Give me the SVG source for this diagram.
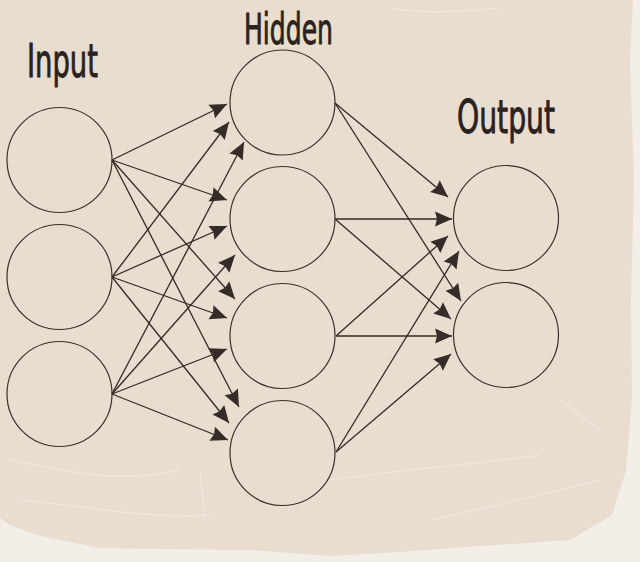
<svg xmlns="http://www.w3.org/2000/svg" width="640" height="562" viewBox="0 0 640 562">
  <style>
    .node { fill: none; stroke: #3a302c; stroke-width: 1.2; }
    .edge { fill: none; stroke: #332926; stroke-width: 1.3; marker-end: url(#arrow); }
    .label { font-family: "Liberation Sans Narrow", "DejaVu Sans Condensed", "Liberation Sans", sans-serif; font-size: 46px; fill: #2a2220; stroke: #2a2220; stroke-width: 0.9; }
    .scratch { fill: none; stroke: #f6f2ec; stroke-width: 1.1; opacity: 0.55; }
  </style>
  <defs>
    <marker id="arrow" markerUnits="userSpaceOnUse" markerWidth="20" markerHeight="18" refX="17" refY="7.5" orient="auto" overflow="visible">
      <path d="M0,0 L17,7.5 L0,15 L2,7.5 Z" fill="#352b28"/>
    </marker>
  </defs>

  <g id="background">
    <rect x="0" y="0" width="640" height="562" fill="#f3eee7"/>
    <path d="M0,0 L633,0 L630,60 L634,180 L631,300 L632,400 L626,470 L612,515 L570,540 L480,546 L400,552 L330,556 L250,550 L160,549 L100,548 L40,536 L10,525 L0,518 Z" fill="#e8ddcf"/>
    <path class="scratch" d="M10,460 C60,470 120,485 180,470"/>
    <path class="scratch" d="M20,500 C80,505 150,520 210,515"/>
    <path class="scratch" d="M330,480 C400,470 470,465 540,455"/>
    <path class="scratch" d="M430,520 C480,510 540,495 600,480"/>
    <path class="scratch" d="M200,470 L205,520"/>
    <path class="scratch" d="M560,400 L600,430"/>
    <path class="scratch" d="M390,8 C420,14 460,12 500,8"/>
  </g>

  <g id="labels">
    <text class="label" x="27" y="77" textLength="71" lengthAdjust="spacingAndGlyphs">Input</text>
    <text class="label" x="244" y="44" textLength="89" lengthAdjust="spacingAndGlyphs" style="font-size:42px">Hidden</text>
    <text class="label" x="457" y="133" textLength="98" lengthAdjust="spacingAndGlyphs">Output</text>
  </g>

  <g id="connectors">
    <line class="edge" x1="112" y1="160" x2="227" y2="104"/>
    <line class="edge" x1="112" y1="160" x2="227" y2="200"/>
    <line class="edge" x1="112" y1="160" x2="235" y2="299"/>
    <line class="edge" x1="112" y1="160" x2="239" y2="407"/>
    <line class="edge" x1="112" y1="277" x2="229" y2="122"/>
    <line class="edge" x1="112" y1="277" x2="227" y2="226"/>
    <line class="edge" x1="112" y1="277" x2="227" y2="318"/>
    <line class="edge" x1="112" y1="277" x2="229" y2="423"/>
    <line class="edge" x1="112" y1="394" x2="244" y2="142"/>
    <line class="edge" x1="112" y1="394" x2="235" y2="255"/>
    <line class="edge" x1="112" y1="394" x2="227" y2="349"/>
    <line class="edge" x1="112" y1="394" x2="228" y2="440"/>
    <line class="edge" x1="335" y1="103" x2="448" y2="197"/>
    <line class="edge" x1="335" y1="103" x2="461" y2="301"/>
    <line class="edge" x1="335" y1="219" x2="452" y2="219"/>
    <line class="edge" x1="335" y1="219" x2="451" y2="319"/>
    <line class="edge" x1="336" y1="336" x2="448" y2="236"/>
    <line class="edge" x1="336" y1="336" x2="452" y2="336"/>
    <line class="edge" x1="336" y1="452" x2="459" y2="251"/>
    <line class="edge" x1="336" y1="452" x2="451" y2="354"/>
  </g>

  <g id="input1"><circle class="node" cx="59.5" cy="160" r="52.5"/></g>
  <g id="input2"><circle class="node" cx="59.5" cy="277" r="52.5"/></g>
  <g id="input3"><circle class="node" cx="59.5" cy="394" r="52.5"/></g>
  <g id="hidden1"><circle class="node" cx="282.5" cy="102.5" r="52.5"/></g>
  <g id="hidden2"><circle class="node" cx="282.5" cy="219" r="52.5"/></g>
  <g id="hidden3"><circle class="node" cx="282.5" cy="336" r="52.5"/></g>
  <g id="hidden4"><circle class="node" cx="282.5" cy="453" r="52.5"/></g>
  <g id="output1"><circle class="node" cx="506" cy="218" r="52.5"/></g>
  <g id="output2"><circle class="node" cx="506" cy="335" r="52.5"/></g>
</svg>
